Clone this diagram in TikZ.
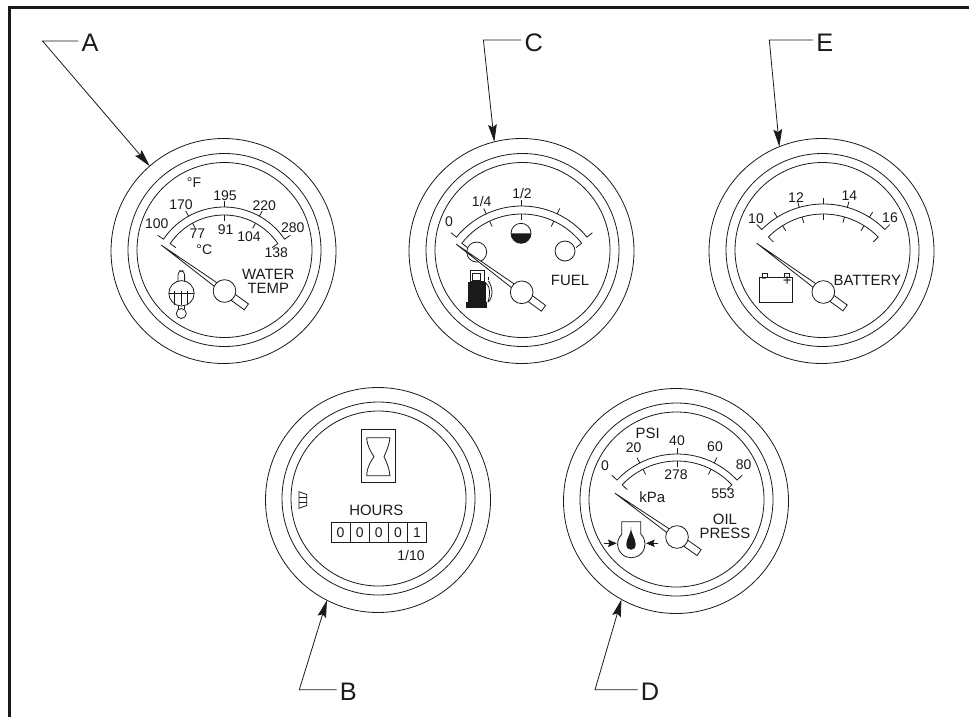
\documentclass[tikz,border=0pt]{standalone}
\usepackage{fontspec}
\setmainfont{Liberation Sans}
\usetikzlibrary{arrows.meta}
\definecolor{ink}{HTML}{1A1A1A}
\tikzset{
  gline/.style={draw=ink,line width=0.6pt},
  ring/.style={circle,draw=ink,line width=0.6pt,inner sep=0pt,outer sep=0pt},
  hub/.style={circle,draw=ink,fill=white,line width=0.6pt,inner sep=0pt,outer sep=0pt,minimum size=17pt},
  num/.style={text=ink,inner sep=0pt,font=\fontsize{10.5}{12}\selectfont},
  word/.style={text=ink,inner sep=0pt,font=\fontsize{11.2}{12}\selectfont},
  tag/.style={text=ink,inner xsep=2.2pt,inner ysep=0pt,font=\fontsize{19}{20}\selectfont,text height=16.5pt,text depth=0pt},
  leader/.style={draw=ink,line width=0.6pt,-{Stealth[length=13pt,width=6.5pt,inset=2pt]}},
  cell/.style={draw=ink,line width=0.6pt,text=ink,inner sep=0pt,minimum width=14.33pt,minimum height=15.5pt,font=\fontsize{10.5}{12}\selectfont},
  oilarrow/.style={draw=ink,line width=0.7pt,-{Stealth[length=6.5pt,width=5.5pt,inset=1pt]}}
}
% scale: cx cy Rout Rin halfOut halfIn
\newcommand\gscale[6]{
  \draw[gline] ({#1+(#3+7)*cos(90+#5)},{#2-(#3+7)*sin(90+#5)}) -- ({#1+#3*cos(90+#5)},{#2-#3*sin(90+#5)})
     arc[start angle=90+#5,end angle=90-#5,radius=#3*0.75pt] -- ({#1+(#3+7)*cos(90-#5)},{#2-(#3+7)*sin(90-#5)});
  \draw[gline] ({#1+(#4-7)*cos(90+#6)},{#2-(#4-7)*sin(90+#6)}) -- ({#1+#4*cos(90+#6)},{#2-#4*sin(90+#6)})
     arc[start angle=90+#6,end angle=90-#6,radius=#4*0.75pt] -- ({#1+(#4-7)*cos(90-#6)},{#2-(#4-7)*sin(90-#6)});
}
% ticks: cx cy Rout Rin list of offsets from vertical
\newcommand\gticks[5]{
  \foreach \a in {#5}{
    \draw[gline] ({#1+#3*sin(\a)},{#2-#3*cos(\a)}) -- ({#1+(#3+6)*sin(\a)},{#2-(#3+6)*cos(\a)});
    \draw[gline] ({#1+#4*sin(\a)},{#2-#4*cos(\a)}) -- ({#1+(#4-6)*sin(\a)},{#2-(#4-6)*cos(\a)});
  }
}
% needle: hx hy angle length
\newcommand\needle[4]{
  \begin{scope}[shift={(#1,#2)},rotate=#3,y=0.75pt]
    \draw[gline,fill=white,line join=miter] (#4,0) -- (0,2.6) -- (0,-2.6) -- cycle;
    \draw[gline,fill=white] (0,-3.6) -- (-27,-3.6) -- (-27,3.6) -- (0,3.6) -- cycle;
  \end{scope}
}
\begin{document}
\begin{tikzpicture}[x=0.75pt,y=-0.75pt]
\useasboundingbox (0,0) rectangle (969,717);
\draw[ink,line width=2.2pt] (9.5,717) -- (9.5,7.5) -- (969,7.5);

% ---------- gauge A
\node[ring,minimum size=168.75pt] (ga) at (223.5,251) {};
\node[ring,minimum size=144.75pt] (ga2) at (224.5,250) {};
\node[ring,minimum size=131.25pt] (ga3) at (224.5,250) {};
\gscale{224}{280}{73}{65}{56}{56}
\gticks{224}{280}{73}{65}{-29,0,29}
\needle{224.5}{291}{144}{78}
\node[hub] (ha) at (224.5,291) {};
\node[num] (a100) at (156.7,223.3) {100};
\node[num] (a170) at (181,204.7) {170};
\node[num] (a195) at (225,195.3) {195};
\node[num] (a220) at (264.3,205.7) {220};
\node[num] (a280) at (292.7,228) {280};
\node[num] (a77) at (197.3,234) {77};
\node[num] (a91) at (225.7,229.7) {91};
\node[num] (a104) at (249,237) {104};
\node[num] (a138) at (276.3,252.3) {138};
\node[num] (af) at (194,182.7) {°F};
\node[num] (ac) at (204.3,250) {°C};
\node[word] (awater) at (268.3,274) {WATER};
\node[word] (atemp) at (268.3,288.3) {TEMP};
% thermometer
\draw[gline,rounded corners=3pt] (178,281) -- (178,270.7) -- (184.6,270.7) -- (184.6,281);
\node[ring,minimum size=19pt] (th) at (181.5,293.3) {};
\draw[gline] (178,306) -- (178,309);
\draw[gline] (184.6,306) -- (184.6,309);
\node[ring,minimum size=7.5pt] (thb) at (181.3,313.5) {};
\draw[gline] (169,293.3) -- (194,293.3);
\foreach \x in {174.3,180.9,187.5}{\draw[gline] (\x,291) -- (\x,304.5);}

% ---------- gauge C
\node[ring,minimum size=168.75pt] (gc) at (521.5,251) {};
\node[ring,minimum size=144.75pt] (gc2) at (522.5,250) {};
\node[ring,minimum size=131.25pt] (gc3) at (522.5,250) {};
\node[ring,minimum size=15pt] (cl) at (476.7,252) {};
\node[ring,minimum size=15pt] (cr) at (565,251) {};
\node[ring,minimum size=15pt] (cm) at (521,233.3) {};
\fill[ink] (511,233.3) arc[start angle=180,end angle=360,radius=7.5pt] -- cycle;
\gscale{521.7}{290}{84}{76}{51}{52}
\gticks{521.7}{290}{84}{76}{-25,0,25}
\needle{521.7}{292.3}{143.7}{81.5}
\node[hub] (hc) at (521.7,292.3) {};
\node[num] (c0) at (449,222) {0};
\node[num] (c14) at (481.7,201) {1/4};
\node[num] (c12) at (522,193.7) {1/2};
\node[word] (cfuel) at (570,280) {FUEL};
% fuel pump
\fill[ink] (467.7,281.7) rectangle (485.7,302.3);
\fill[ink] (466,302.3) rectangle (486.7,308.3);
\draw[gline,fill=white] (470,270.7) rectangle (484,281.7);
\draw[gline] (472.7,273.3) rectangle (480.7,280);
\draw[gline] (488.3,276.7) -- (488.3,280);
\draw[gline] (486,283) .. controls (491,287) and (490,296) .. (488,302);
\draw[gline] (488.3,281) .. controls (493.5,288) and (493,298) .. (488,302);

% ---------- gauge E
\node[ring,minimum size=168.75pt] (ge) at (821.5,251) {};
\node[ring,minimum size=144.75pt] (ge2) at (822.5,250) {};
\node[ring,minimum size=131.25pt] (ge3) at (822.5,250) {};
\gscale{823.3}{291}{87}{77}{45}{45.5}
\gticks{823.3}{291}{87}{77}{-32,-16,0,16,32}
\needle{823.3}{292}{143.8}{82.5}
\node[hub] (he) at (823.3,292) {};
\node[num] (e10) at (756,218.3) {10};
\node[num] (e12) at (796,197.3) {12};
\node[num] (e14) at (849.3,195.3) {14};
\node[num] (e16) at (890,218) {16};
\node[word] (ebat) at (867.3,280) {BATTERY};
% battery
\draw[gline] (759.3,277.7) rectangle (792.7,302.3);
\draw[gline] (762.3,273.7) rectangle (767.7,277.7);
\draw[gline] (784.3,273.7) rectangle (789.7,277.7);
\node[word] (eminus) at (764,280.5) {-};
\node[word] (eplus) at (787.3,281.5) {+};

% ---------- gauge B
\node[ring,minimum size=168.75pt] (gb) at (378,500) {};
\node[ring,minimum size=144.75pt] (gb2) at (378.5,498.5) {};
\node[ring,minimum size=131.25pt] (gb3) at (378.5,498.5) {};
\draw[gline] (361.7,429.3) rectangle (395,482.7);
\draw[gline] (366.7,437.7) -- (390,437.7) .. controls (389,446) and (386,452) .. (384,456.7) .. controls (386,461) and (389,467) .. (390,475.7) -- (366.7,475.7) .. controls (367,467) and (371,461) .. (374,456.7) .. controls (371,452) and (367,446) .. cycle;
\draw[gline] (299,491.7) -- (306.7,494.5) -- (306.7,505.5) -- (299,508.3) -- cycle;
\draw[gline] (299,497.5) -- (306.7,497.5);
\draw[gline] (299,502.5) -- (306.7,502.5);
\node[word] (bhours) at (376.3,510.7) {HOURS};
\node[cell] (d1) at (340.6,532.3) {0};
\node[cell] (d2) at (359.7,532.3) {0};
\node[cell] (d3) at (378.8,532.3) {0};
\node[cell] (d4) at (398,532.3) {0};
\node[cell] (d5) at (417.1,532.3) {1};
\node[num] (b110) at (411,555.3) {1/10};

% ---------- gauge D
\node[ring,minimum size=168.75pt] (gd) at (676,501) {};
\node[ring,minimum size=144.75pt] (gd2) at (676.5,499.5) {};
\node[ring,minimum size=131.25pt] (gd3) at (676.5,499.5) {};
\gscale{677}{536}{82}{75}{47}{47}
\gticks{677}{536}{82}{75}{-27,0,27}
\needle{677}{537}{144.8}{76}
\node[hub] (hd) at (677,537) {};
\node[word] (dpsi) at (647.7,433.3) {PSI};
\node[num] (d0) at (605,466) {0};
\node[num] (d20) at (633.7,448) {20};
\node[num] (d40) at (677,441) {40};
\node[num] (d60) at (715,447) {60};
\node[num] (d80) at (743.7,464.7) {80};
\node[num] (d278) at (676,475) {278};
\node[word] (dkpa) at (652.3,497.3) {kPa};
\node[num] (d553) at (723,494) {553};
\node[word] (doil) at (725,519) {OIL};
\node[word] (dpress) at (725,533.3) {PRESS};
% oil can symbol
\draw[gline] (621.7,534) -- (621.7,521.7) -- (640.7,521.7) -- (640.7,534)
   arc[start angle=47,end angle=-227,radius=10.3pt];
\fill[ink] (631,526.7) .. controls (631,535) and (626.3,538) .. (626.3,544.5)
   .. controls (626.3,551.5) and (635.7,551.5) .. (635.7,544.5)
   .. controls (635.7,538) and (631,535) .. cycle;
\coordinate (oilLs) at (604.3,543.3);
\coordinate (oilLe) at (616.7,543.3);
\coordinate (oilRs) at (658.3,543.3);
\coordinate (oilRe) at (646,543.3);
\draw[oilarrow] (oilLs) -- (oilLe);
\draw[oilarrow] (oilRs) -- (oilRe);

% ---------- callouts
\node[tag] (tA) at (90,41) {A};
\node[tag] (tC) at (533.7,40) {C};
\node[tag] (tE) at (824.7,40) {E};
\node[tag] (tB) at (348.3,689.7) {B};
\node[tag] (tD) at (650,689.7) {D};
\coordinate (kA) at (42.5,41);
\coordinate (kC) at (483.4,40);
\coordinate (kE) at (769.3,40);
\coordinate (kB) at (299.3,689.7);
\coordinate (kD) at (595,689.7);
\draw[leader] (tA.west) -- (kA) -- (ga.131.3);
\draw[leader] (tC.west) -- (kC) -- (gc.104.1);
\draw[leader] (tE.west) -- (kE) -- (ge.112.3);
\draw[leader] (tB.west) -- (kB) -- (gb.243.8);
\draw[leader] (tD.west) -- (kD) -- (gd.241.1);
\end{tikzpicture}
\end{document}
